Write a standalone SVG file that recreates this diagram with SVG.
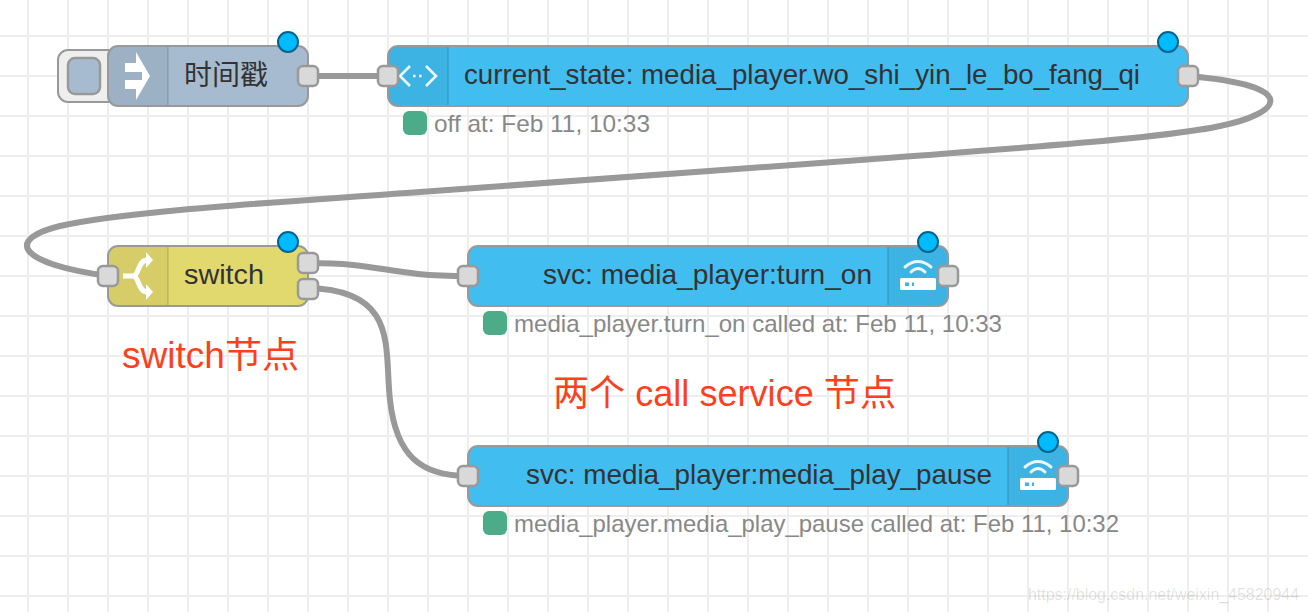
<svg xmlns="http://www.w3.org/2000/svg" width="1308" height="612" viewBox="0 0 1308 612">
<style>
text{font-family:"Liberation Sans","Noto Sans CJK SC",Arial,sans-serif}
.grid{stroke:#eeeeee;stroke-width:2;fill:none}
.node{stroke:#999;stroke-width:2}
.port{fill:#d9d9d9;stroke:#999;stroke-width:2.5}
.dot{fill:#00bbff;stroke:#00638c;stroke-width:2}
.wire{fill:none;stroke:#999;stroke-width:6}
.lbl{font-size:28px;fill:#333}
.st{font-size:24px;fill:#888}
.stdot{fill:#4cab88}
.sep{stroke:#000;stroke-opacity:.1;stroke-width:2}
.shade{fill:#000;fill-opacity:.05}
.icon{fill:none;stroke:#fff}
.red{font-size:36px;fill:#fc3f1d}
</style>
<defs>
<g id="router">
<path class="icon" stroke-width="3" stroke-linecap="round" stroke-opacity=".9" d="M-13,-8 Q0,-19 13,-8 M-7,-3 Q0,-10 7,-3"/>
<rect x="-18" y="3" width="36" height="12" rx="1.5" fill="#fff"/>
<rect x="-13" y="7.5" width="4" height="3.5" fill="#3fb4e0"/>
<rect x="-6" y="7.5" width="2" height="3.5" fill="#3fb4e0"/>
</g>
</defs>
<rect width="1308" height="612" fill="#fff"/>
<g id="grid">
<path class="grid" d="M28,0V612M68,0V612M108,0V612M148,0V612M188,0V612M228,0V612M268,0V612M308,0V612M348,0V612M388,0V612M428,0V612M468,0V612M508,0V612M548,0V612M588,0V612M628,0V612M668,0V612M708,0V612M748,0V612M788,0V612M828,0V612M868,0V612M908,0V612M948,0V612M988,0V612M1028,0V612M1068,0V612M1108,0V612M1148,0V612M1188,0V612M1228,0V612M1268,0V612"/>
<path class="grid" d="M0,36H1308M0,76H1308M0,116H1308M0,156H1308M0,196H1308M0,236H1308M0,276H1308M0,316H1308M0,356H1308M0,396H1308M0,436H1308M0,476H1308M0,516H1308M0,556H1308M0,596H1308"/>
</g>
<g id="connectors">
<path class="wire" d="M308,76H388"/>
<path class="wire" d="M1188,76C1305,86 1280,114 1220,126C1170,137 1050,146 820,163L420,192C300,201 130,210 60,226C10,238 10,262 108,276"/>
<path class="wire" d="M308,263C385,263 385,276 468,276"/>
<path class="wire" d="M308,288C400,290 384,350 390,400C396,455 420,476 468,476"/>
</g>
<g id="node-inject">
<rect x="58" y="50" width="60" height="52" rx="10" fill="#eeeeee" stroke="#999" stroke-width="2"/>
<rect x="68" y="58" width="32" height="36" rx="7" fill="#a6bbcf" stroke="#999" stroke-width="2.5"/>
<rect class="node" x="108" y="46" width="200" height="60" rx="10" fill="#a6bbcf"/>
<path class="shade" d="M118,47H168V105H118A9,9 0 0 1 109,96V56A9,9 0 0 1 118,47Z"/>
<line class="sep" x1="168" y1="47" x2="168" y2="105"/>
<path fill="#fff" d="M125,63H136V52L150,76L136,100V89H125V80H142V72H125Z"/>
<text class="lbl" x="226" y="85" text-anchor="middle">时间戳</text>
<circle class="dot" cx="288" cy="42" r="10"/>
<rect class="port" x="298" y="66" width="20" height="20" rx="5"/>
</g>
<g id="node-current-state">
<rect class="node" x="388" y="46" width="800" height="60" rx="10" fill="#41bdf0"/>
<path class="shade" d="M398,47H448V105H398A9,9 0 0 1 389,96V56A9,9 0 0 1 398,47Z"/>
<line class="sep" x1="448" y1="47" x2="448" y2="105"/>
<path class="icon" stroke-width="2.6" stroke-opacity=".9" d="M410,66L400,76L410,86M426,66L436,76L426,86"/>
<path class="icon" stroke-width="2.5" stroke-dasharray="2.5 3.5" d="M413,76H424"/>
<text class="lbl" x="464" y="84" textLength="676" lengthAdjust="spacingAndGlyphs">current_state: media_player.wo_shi_yin_le_bo_fang_qi</text>
<circle class="dot" cx="1168" cy="42" r="10"/>
<rect class="port" x="378" y="66" width="20" height="20" rx="5"/>
<rect class="port" x="1178" y="66" width="20" height="20" rx="5"/>
<rect class="stdot" x="403" y="111" width="24" height="24" rx="6"/>
<text class="st" x="434" y="132" textLength="216" lengthAdjust="spacingAndGlyphs">off at: Feb 11, 10:33</text>
</g>
<g id="node-switch">
<rect class="node" x="108" y="246" width="200" height="60" rx="10" fill="#e2d96e"/>
<path class="shade" d="M118,247H168V305H118A9,9 0 0 1 109,296V256A9,9 0 0 1 118,247Z"/>
<line class="sep" x1="168" y1="247" x2="168" y2="305"/>
<path class="icon" stroke-width="5" d="M123,276H133C139,276 138,260 147,260M133,276C139,276 138,292 147,292"/>
<path fill="#fff" d="M146,252L153,260L146,268ZM146,284L153,292L146,300Z"/>
<text class="lbl" x="184" y="284" textLength="80" lengthAdjust="spacingAndGlyphs">switch</text>
<circle class="dot" cx="288" cy="242" r="10"/>
<rect class="port" x="98" y="266" width="20" height="20" rx="5"/>
<rect class="port" x="298" y="253" width="20" height="20" rx="5"/>
<rect class="port" x="298" y="279" width="20" height="20" rx="5"/>
</g>
<g id="node-turn-on">
<rect class="node" x="468" y="246" width="480" height="60" rx="10" fill="#41bdf0"/>
<path class="shade" d="M888,247H938A9,9 0 0 1 947,256V296A9,9 0 0 1 938,305H888Z"/>
<line class="sep" x1="888" y1="247" x2="888" y2="305"/>
<use href="#router" x="918" y="275"/>
<text class="lbl" x="543" y="284" textLength="329" lengthAdjust="spacingAndGlyphs">svc: media_player:turn_on</text>
<circle class="dot" cx="928" cy="242" r="10"/>
<rect class="port" x="458" y="266" width="20" height="20" rx="5"/>
<rect class="port" x="938" y="266" width="20" height="20" rx="5"/>
<rect class="stdot" x="483" y="311" width="24" height="24" rx="6"/>
<text class="st" x="514" y="332" textLength="488" lengthAdjust="spacingAndGlyphs">media_player.turn_on called at: Feb 11, 10:33</text>
</g>
<g id="node-play-pause">
<rect class="node" x="468" y="446" width="600" height="60" rx="10" fill="#41bdf0"/>
<path class="shade" d="M1008,447H1058A9,9 0 0 1 1067,456V496A9,9 0 0 1 1058,505H1008Z"/>
<line class="sep" x1="1008" y1="447" x2="1008" y2="505"/>
<use href="#router" x="1038" y="475"/>
<text class="lbl" x="526" y="484" textLength="466" lengthAdjust="spacingAndGlyphs">svc: media_player:media_play_pause</text>
<circle class="dot" cx="1048" cy="442" r="10"/>
<rect class="port" x="458" y="466" width="20" height="20" rx="5"/>
<rect class="port" x="1058" y="466" width="20" height="20" rx="5"/>
<rect class="stdot" x="483" y="511" width="24" height="24" rx="6"/>
<text class="st" x="514" y="532" textLength="605" lengthAdjust="spacingAndGlyphs">media_player.media_play_pause called at: Feb 11, 10:32</text>
</g>
<g id="annotations">
<text class="red" x="122" y="368" textLength="177" lengthAdjust="spacingAndGlyphs">switch节点</text>
<text class="red" x="553" y="406" textLength="343" lengthAdjust="spacingAndGlyphs">两个 call service 节点</text>
<text x="1028" y="600" font-size="16.5" fill="#000" fill-opacity=".13" textLength="271" lengthAdjust="spacingAndGlyphs">https://blog.csdn.net/weixin_45820944</text>
</g>
</svg>
